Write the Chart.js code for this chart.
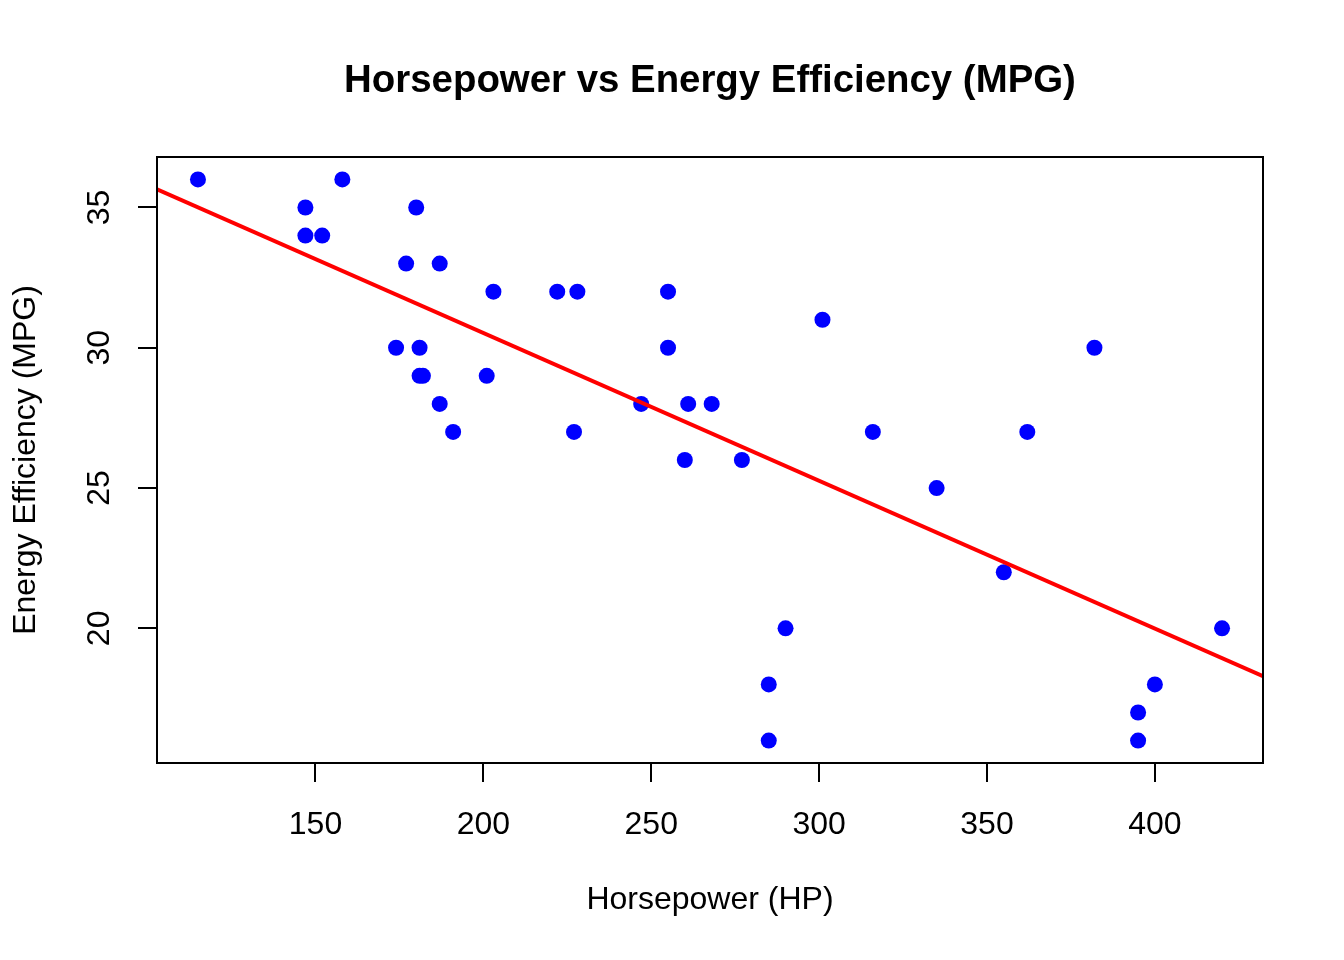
<!DOCTYPE html>
<html>
<head>
<meta charset="utf-8">
<script src="https://cdn.jsdelivr.net/npm/chart.js@4"></script>
<style>
  html, body { margin: 0; padding: 0; background: #ffffff; }
  #wrap { width: 1344px; height: 960px; }
</style>
</head>
<body>
<div id="wrap"><canvas id="c" width="1344" height="960"></canvas></div>
<script>
// ---- data ----
const horsepower = [115, 147, 147, 152, 158, 180, 177, 187, 174, 181, 181, 182, 187, 191, 201, 203,
  222, 228, 227, 247, 255, 255, 261, 268, 260, 277, 285, 285, 290, 301, 316, 335, 355, 362, 382,
  395, 395, 400, 420];
const mpg = [36, 35, 34, 34, 36, 35, 33, 33, 30, 30, 29, 29, 28, 27, 29, 32,
  32, 32, 27, 28, 32, 30, 28, 28, 26, 26, 18, 16, 20, 31, 27, 25, 22, 27, 30,
  17, 16, 18, 20];
const xTicks = [150, 200, 250, 300, 350, 400];
const yTicks = [20, 25, 30, 35];
const titleText = 'Horsepower vs Energy Efficiency (MPG)';
const xLabel = 'Horsepower (HP)';
const yLabel = 'Energy Efficiency (MPG)';

// axis ranges as R computes them (4% extension of data range)
function rRange(arr) {
  const mn = Math.min(...arr), mx = Math.max(...arr), d = (mx - mn) * 0.04;
  return [mn - d, mx + d];
}
const [xMin, xMax] = rRange(horsepower);
const [yMin, yMax] = rRange(mpg);

// least-squares fit (abline(lm(mpg ~ hp)))
function fit(xs, ys) {
  const n = xs.length;
  const mx = xs.reduce((a, b) => a + b, 0) / n;
  const my = ys.reduce((a, b) => a + b, 0) / n;
  let sxy = 0, sxx = 0;
  for (let i = 0; i < n; i++) { sxy += (xs[i] - mx) * (ys[i] - my); sxx += (xs[i] - mx) ** 2; }
  const b = sxy / sxx;
  return { a: my - b * mx, b };
}
const lm = fit(horsepower, mpg);

const points = horsepower.map((h, i) => ({ x: h, y: mpg[i] }));
const fitLine = [xMin, xMax].map(x => ({ x, y: lm.a + lm.b * x }));

const FONT = '"Liberation Sans", Arial, Helvetica, sans-serif';
Chart.defaults.font.family = FONT;
Chart.defaults.color = '#000000';

const rAxesPlugin = {
  id: 'rAxes',
  afterDraw(chart) {
    const { ctx, chartArea: a } = chart;
    const ys = chart.scales.y;
    ctx.save();
    // box around plot region
    ctx.strokeStyle = '#000000';
    ctx.lineWidth = 2;
    ctx.strokeRect(a.left, a.top, a.right - a.left, a.bottom - a.top);
    // rotated y tick labels (R style, las = 0)
    ctx.fillStyle = '#000000';
    ctx.font = '32px ' + FONT;
    ctx.textAlign = 'center';
    ctx.textBaseline = 'middle';
    ys.ticks.forEach(t => {
      const py = ys.getPixelForValue(t.value);
      ctx.save();
      ctx.translate(100, py);
      ctx.rotate(-Math.PI / 2);
      ctx.fillText(String(t.value), 0, 0);
      ctx.restore();
    });
    ctx.restore();
  }
};

new Chart(document.getElementById('c'), {
  type: 'scatter',
  data: {
    datasets: [
      {
        type: 'line',
        data: fitLine,
        borderColor: '#FF0000',
        borderWidth: 4,
        pointRadius: 0,
        fill: false,
        tension: 0
      },
      {
        type: 'scatter',
        data: points,
        backgroundColor: '#0000FF',
        borderColor: '#0000FF',
        borderWidth: 0,
        pointRadius: 8,
        pointHoverRadius: 8
      }
    ]
  },
  options: {
    responsive: false,
    animation: false,
    devicePixelRatio: 1,
    layout: { padding: { left: 0, right: 81, top: 0, bottom: 0 } },
    plugins: {
      legend: { display: false },
      tooltip: { enabled: false },
      title: {
        display: true,
        text: titleText,
        fullSize: false,
        color: '#000000',
        font: { size: 38.4, weight: 'bold', lineHeight: 1.2, family: FONT },
        padding: { top: 58, bottom: 52.92 }
      }
    },
    scales: {
      x: {
        type: 'linear',
        position: 'bottom',
        min: xMin,
        max: xMax,
        bounds: 'data',
        afterBuildTicks: s => { s.ticks = xTicks.map(v => ({ value: v })); },
        afterFit: s => { s.height = 197; },
        grid: { display: true, drawOnChartArea: false, drawTicks: true, tickLength: 19, color: '#000000', lineWidth: 2 },
        border: { display: false },
        ticks: {
          padding: 23.8,
          color: '#000000',
          maxRotation: 0,
          minRotation: 0,
          autoSkip: false,
          font: { size: 32, lineHeight: 1.2, family: FONT },
          callback: v => String(v)
        },
        title: {
          display: true,
          text: xLabel,
          color: '#000000',
          font: { size: 32, lineHeight: 1.2, family: FONT },
          padding: { top: 0, bottom: 40.8 }
        }
      },
      y: {
        type: 'linear',
        position: 'left',
        min: yMin,
        max: yMax,
        bounds: 'data',
        afterBuildTicks: s => { s.ticks = yTicks.map(v => ({ value: v })); },
        afterFit: s => { s.width = 157; },
        grid: { display: true, drawOnChartArea: false, drawTicks: true, tickLength: 19, color: '#000000', lineWidth: 2 },
        border: { display: false },
        ticks: { display: false },
        title: {
          display: true,
          text: yLabel,
          color: '#000000',
          font: { size: 32, lineHeight: 1.2, family: FONT },
          padding: { top: 6.8, bottom: 0 }
        }
      }
    }
  },
  plugins: [rAxesPlugin]
});
</script>
</body>
</html>
